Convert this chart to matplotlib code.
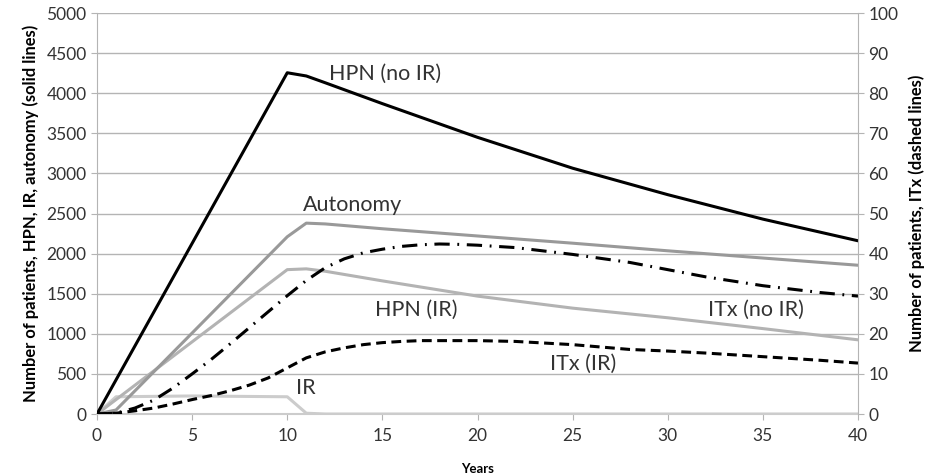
import numpy as np
import matplotlib.pyplot as plt

plt.rcParams['font.family'] = ['Lato', 'DejaVu Sans']

# solid lines, left axis
years_hpn = [0, 10, 11, 12, 15, 20, 25, 30, 35, 40]
hpn_no_ir = [0, 4255, 4215, 4130, 3870, 3450, 3065, 2735, 2430, 2160]

years_auto = [0, 1, 10, 11, 12, 15, 20, 25, 30, 35, 40]
autonomy = [0, 50, 2210, 2380, 2370, 2310, 2220, 2130, 2035, 1945, 1855]

years_hpn_ir = [0, 10, 11, 12, 15, 20, 25, 30, 35, 40]
hpn_ir = [0, 1800, 1810, 1780, 1660, 1470, 1320, 1200, 1065, 925]

years_ir = [0, 1, 5, 10, 11, 12, 40]
ir = [0, 215, 225, 215, 10, 0, 0]

# dashed lines, right axis
years_itx = [0, 1, 2, 3, 4, 5, 6, 7, 8, 9, 10, 11, 12, 13, 14, 15, 16, 17, 18,
             19, 20, 22, 25, 28, 30, 32, 35, 38, 40]
itx_no_ir = [0, 0.2, 1.5, 3.5, 6.5, 10, 13.6, 17.5, 21.5, 25.5, 29.5, 33.3, 36.5,
             38.7, 40.2, 41.1, 41.8, 42.2, 42.4, 42.3, 42.1, 41.5, 39.8, 37.8,
             36.0, 34.2, 32.0, 30.3, 29.4]
itx_ir = [0, 0.2, 0.8, 1.5, 2.5, 3.6, 4.6, 5.8, 7.2, 9.0, 11.5, 14.0, 15.5,
          16.5, 17.3, 17.8, 18.1, 18.3, 18.3, 18.3, 18.3, 18.1, 17.3, 16.1,
          15.7, 15.2, 14.3, 13.4, 12.7]

grid_c = '#b4b4b4'
text_c = '#333333'

fig, ax = plt.subplots(figsize=(9.3, 4.75), dpi=100)
fig.subplots_adjust(left=0.1043, right=0.9226, top=0.9726, bottom=0.1284)
ax2 = ax.twinx()

ax.plot(years_ir, ir, color='#cccccc', lw=2.2, zorder=3)
ax.plot(years_hpn_ir, hpn_ir, color='#b3b3b3', lw=2.2, zorder=3)
ax.plot(years_auto, autonomy, color='#999999', lw=2.2, zorder=3)
ax.plot(years_hpn, hpn_no_ir, color='black', lw=2.2, zorder=4)

ax2.plot(years_itx, itx_no_ir, color='black', lw=2.2,
         dashes=(5, 2.5, 0.6, 2.5), dash_capstyle='butt')
ax2.plot(years_itx, itx_ir, color='black', lw=2.2, dashes=(3.2, 1.8))

ax.set_xlim(0, 40)
ax.set_ylim(0, 5000)
ax2.set_ylim(0, 100)
ax.set_xticks(np.arange(0, 41, 5))
ax.set_yticks(np.arange(0, 5001, 500))
ax2.set_yticks(np.arange(0, 101, 10))

ax.grid(axis='y', color=grid_c, lw=1)
ax.set_axisbelow(True)
for a in (ax, ax2):
    for s in a.spines.values():
        s.set_visible(False)
    a.tick_params(colors=text_c, labelsize=12.5, length=4, color=grid_c)
ax.spines['left'].set_visible(True)
ax.spines['left'].set_color(grid_c)
ax2.spines['right'].set_visible(True)
ax2.spines['right'].set_color(grid_c)
ax.spines['bottom'].set_visible(True)
ax.spines['bottom'].set_color('#cccccc')
ax.spines['bottom'].set_linewidth(1.5)
ax.tick_params(axis='x', pad=6)

ax.set_ylabel('Number of patients, HPN, IR, autonomy (solid lines)',
              fontsize=11.9, fontweight='bold', color='black', labelpad=5)
ax2.set_ylabel('Number of patients, ITx (dashed lines)',
               fontsize=11.9, fontweight='bold', color='black', labelpad=7)
ax.set_xlabel('Years', fontsize=9.5, fontweight='bold', color='black', labelpad=14)

lab = dict(fontsize=15.5, color=text_c, va='center', ha='left')
ax.text(12.2, 4240, 'HPN (no IR)', **lab)
ax.text(10.8, 2610, 'Autonomy', **lab)
ax.text(14.6, 1300, 'HPN (IR)', **lab)
ax.text(32.1, 1300, 'ITx (no IR)', **lab)
ax.text(23.8, 625, 'ITx (IR)', **lab)
ax.text(10.45, 330, 'IR', **lab)

fig.savefig('out.png', dpi=100)
